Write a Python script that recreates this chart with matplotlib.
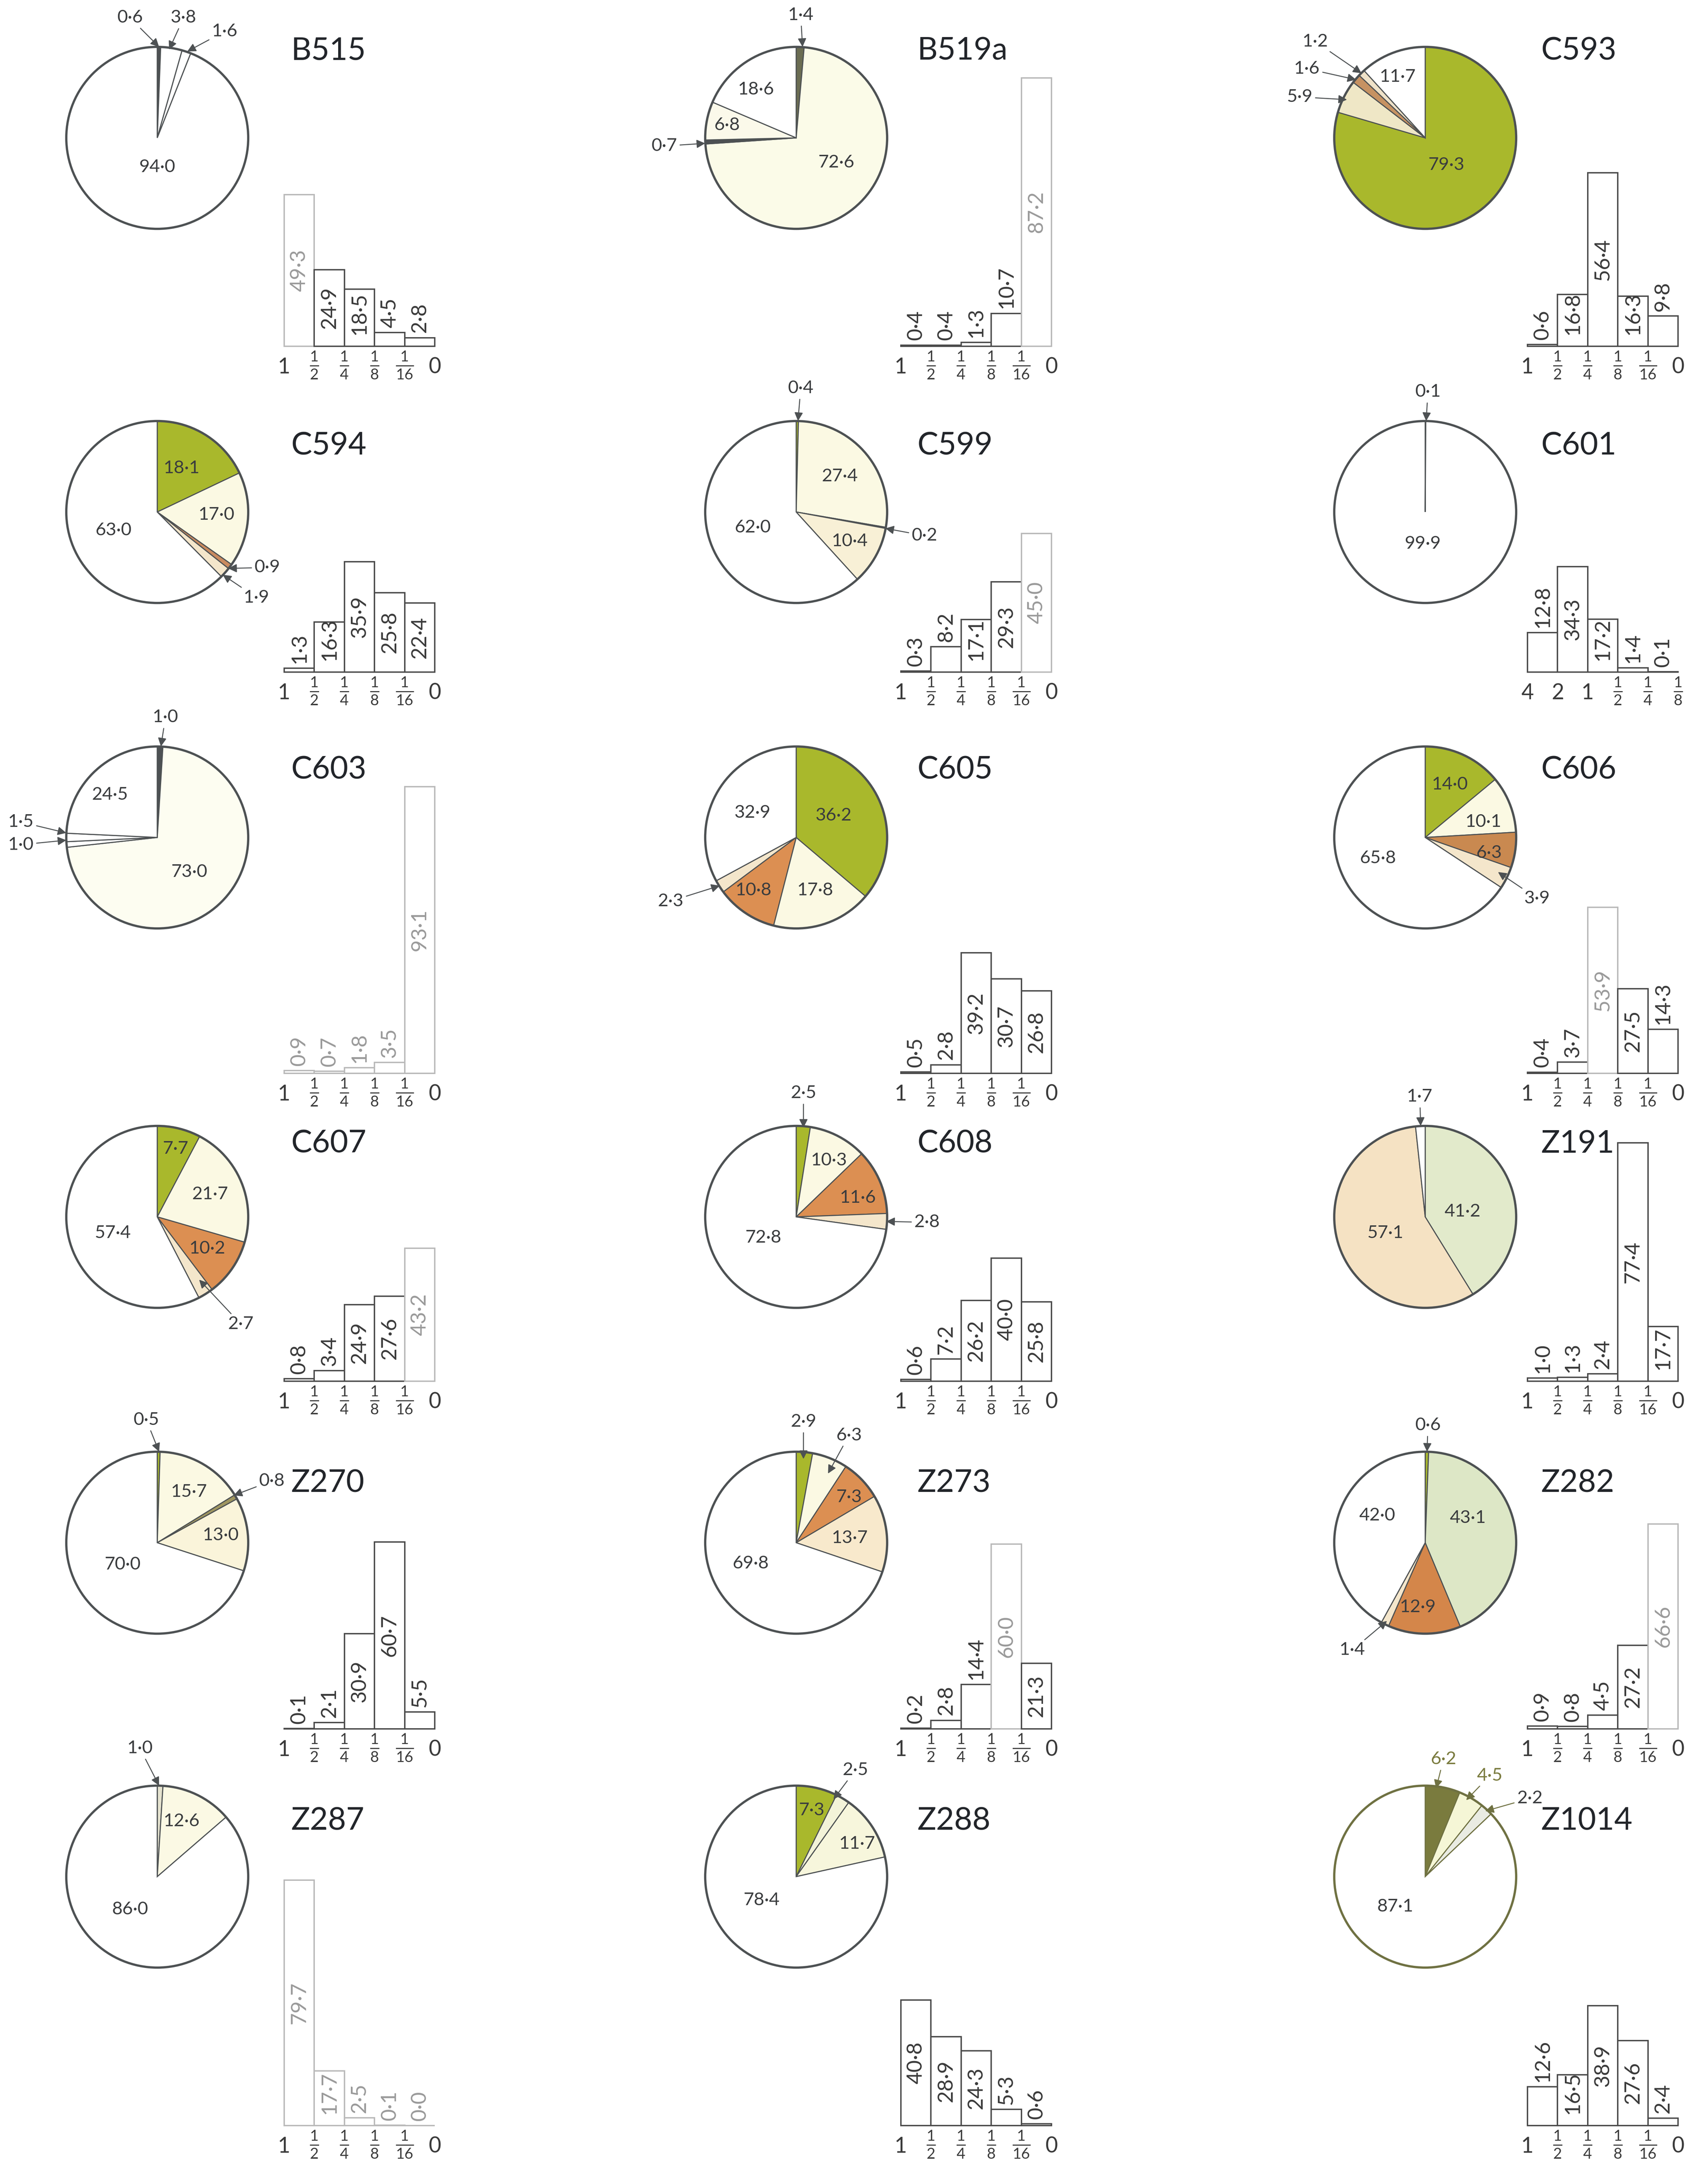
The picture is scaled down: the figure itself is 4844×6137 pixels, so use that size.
import matplotlib
matplotlib.use("Agg")
import matplotlib.pyplot as plt
from matplotlib.patches import Circle

plt.rcParams['font.family'] = ['Lato', 'DejaVu Sans']
plt.rcParams['mathtext.fontset'] = 'custom'
plt.rcParams['mathtext.rm'] = 'Lato'
plt.rcParams['mathtext.it'] = 'Lato'
plt.rcParams['mathtext.bf'] = 'Lato:bold'

W, H = 4844, 6137

# colours of the pie classes
G = '#a9b82c'
CR = '#fbf9e3'
OR = '#dc8f52'
LB = '#f4e6cb'
WH = 'white'
DK = '#4d5153'

names = ['B515', 'B519a', 'C593',
         'C594', 'C599', 'C601',
         'C603', 'C605', 'C606',
         'C607', 'C608', 'Z191',
         'Z270', 'Z273', 'Z282',
         'Z287', 'Z288', 'Z1014']

pie_vals = [
    [0.6, 3.8, 1.6, 94.0],
    [1.4, 72.6, 0.7, 6.8, 18.6],
    [79.3, 5.9, 1.6, 1.2, 11.7],
    [18.1, 17.0, 0.9, 1.9, 63.0],
    [0.4, 27.4, 0.2, 10.4, 62.0],
    [0.1, 99.9],
    [1.0, 73.0, 1.0, 1.5, 24.5],
    [36.2, 17.8, 10.8, 2.3, 32.9],
    [14.0, 10.1, 6.3, 3.9, 65.8],
    [7.7, 21.7, 10.2, 2.7, 57.4],
    [2.5, 10.3, 11.6, 2.8, 72.8],
    [41.2, 57.1, 1.7],
    [0.5, 15.7, 0.8, 13.0, 70.0],
    [2.9, 6.3, 7.3, 13.7, 69.8],
    [0.6, 43.1, 12.9, 1.4, 42.0],
    [1.0, 12.6, 86.0],
    [7.3, 2.5, 11.7, 78.4],
    [6.2, 4.5, 2.2, 87.1],
]

pie_cols = [
    [DK, WH, WH, WH],
    ['#6b6d52', '#fbfbe8', DK, '#fbf9ea', WH],
    [G, '#efe7c6', '#c69262', '#efe2c8', WH],
    [G, CR, '#c98a5f', LB, WH],
    [G, CR, DK, '#f8f0d6', WH],
    [DK, WH],
    [DK, '#fdfdf1', WH, WH, WH],
    [G, CR, OR, LB, WH],
    [G, CR, '#c98950', LB, WH],
    [G, CR, OR, LB, WH],
    [G, CR, OR, LB, WH],
    ['#e2eacb', '#f5e2c3', WH],
    [G, CR, '#9f9660', '#faf4da', WH],
    [G, CR, OR, '#f8e9cc', WH],
    [G, '#dde7c6', '#d4864a', LB, WH],
    ['#e5e3cf', '#fbf9e4', WH],
    [G, '#f3f3d8', '#f7f6dc', WH],
    ['#7a7b3e', '#f5f6d6', '#e9ebe2', WH],
]

hist_vals = [
    [49.3, 24.9, 18.5, 4.5, 2.8],
    [0.4, 0.4, 1.3, 10.7, 87.2],
    [0.6, 16.8, 56.4, 16.3, 9.8],
    [1.3, 16.3, 35.9, 25.8, 22.4],
    [0.3, 8.2, 17.1, 29.3, 45.0],
    [12.8, 34.3, 17.2, 1.4, 0.1],
    [0.9, 0.7, 1.8, 3.5, 93.1],
    [0.5, 2.8, 39.2, 30.7, 26.8],
    [0.4, 3.7, 53.9, 27.5, 14.3],
    [0.8, 3.4, 24.9, 27.6, 43.2],
    [0.6, 7.2, 26.2, 40.0, 25.8],
    [1.0, 1.3, 2.4, 77.4, 17.7],
    [0.1, 2.1, 30.9, 60.7, 5.5],
    [0.2, 2.8, 14.4, 60.0, 21.3],
    [0.9, 0.8, 4.5, 27.2, 66.6],
    [79.7, 17.7, 2.5, 0.1, 0.0],
    [40.8, 28.9, 24.3, 5.3, 0.6],
    [12.6, 16.5, 38.9, 27.6, 2.4],
]

sizes_std = ['1', '1/2', '1/4', '1/8', '1/16', '0']
sizes_c601 = ['4', '2', '1', '1/2', '1/4', '1/8']

# label placement, in pie radii from the centre: (x, y) inside, (x, y, tip_x, tip_y) with arrow
pie_labels = [
    [(-0.30, 1.32, 0.02, 1.0), (0.29, 1.32, 0.13, 0.97), (0.74, 1.17, 0.33, 0.95), (0, -0.32)],
    [(0.05, 1.35, 0.07, 1.0), (0.44, -0.27), (-1.45, -0.09, -1.0, -0.06), (-0.76, 0.14), (-0.44, 0.53)],
    [(0.23, -0.30), (-1.38, 0.45, -0.86, 0.42), (-1.30, 0.76, -0.76, 0.64), (-1.21, 1.06, -0.70, 0.71), (-0.30, 0.67)],
    [(0.27, 0.48), (0.65, -0.03), (1.21, -0.61, 0.78, -0.62), (1.09, -0.94, 0.72, -0.69), (-0.48, -0.20)],
    [(0.05, 1.36, 0.02, 1.0), (0.48, 0.39), (1.41, -0.26, 0.98, -0.18), (0.59, -0.32), (-0.48, -0.17)],
    [(0.03, 1.32, 0.01, 1.0), (-0.03, -0.35)],
    [(0.09, 1.32, 0.04, 1.0), (0.35, -0.38), (-1.5, -0.08, -1.0, -0.03), (-1.5, 0.17, -1.0, 0.05), (-0.52, 0.47)],
    [(0.41, 0.24), (0.21, -0.58), (-0.47, -0.58), (-1.38, -0.70, -0.84, -0.53), (-0.48, 0.27)],
    [(0.27, 0.58), (0.64, 0.17), (0.70, -0.17), (1.23, -0.67, 0.80, -0.38), (-0.52, -0.23)],
    [(0.20, 0.75), (0.58, 0.25), (0.55, -0.35), (0.92, -1.18, 0.46, -0.69), (-0.49, -0.18)],
    [(0.08, 1.36, 0.08, 0.98), (0.36, 0.62), (0.68, 0.21), (1.44, -0.06, 0.99, -0.05), (-0.36, -0.23)],
    [(0.41, 0.06), (-0.44, -0.18), (-0.06, 1.32, -0.05, 1.0)],
    [(-0.12, 1.35, 0.02, 1.0), (0.35, 0.56), (1.26, 0.68, 0.84, 0.52), (0.70, 0.08), (-0.38, -0.24)],
    [(0.08, 1.33, 0.08, 0.92), (0.58, 1.18, 0.35, 0.76), (0.58, 0.50), (0.59, 0.05), (-0.50, -0.23)],
    [(0.03, 1.29, 0.02, 1.0), (0.47, 0.27), (-0.08, -0.71), (-0.80, -1.18, -0.42, -0.86), (-0.53, 0.30)],
    [(-0.19, 1.41, 0.02, 1.0), (0.27, 0.61), (-0.30, -0.36)],
    [(0.17, 0.73), (0.65, 1.17, 0.41, 0.85), (0.67, 0.36), (-0.38, -0.26)],
    [(0.20, 1.29, 0.12, 0.97), (0.71, 1.11, 0.45, 0.84), (1.15, 0.86, 0.66, 0.72), (-0.33, -0.33)],
]

# bars whose print came out pale
faded = [{0}, {4}, set(), set(), {4}, set(), {0, 1, 2, 3, 4}, set(), {2},
         {4}, set(), set(), set(), {3}, {4}, {0, 1, 2, 3, 4}, set(), set()]

# grid of the 3 x 6 panels, in pixels
pie_cx = [446, 2258, 4042]
pie_cy = [391, 1452, 2375, 3451, 4375, 5322]
R = 258
title_x = [826, 2602, 4371]
title_y = [145, 1264, 2183, 3244, 4206, 5165]
hist_x = [806, 2555, 4332]
hist_base = [982, 1906, 3044, 3917, 4903, 6028]
hist_w = 427
PX_PER_PCT = 8.73

TXT = '#3a3c3e'
EDGE = '#4d5153'


def fmt(v):
    s = f"{v:.1f}"
    return s.replace('.', '\u00b7')


def rect(left, top, w, h):
    return [left / W, 1 - (top + h) / H, w / W, h / H]


def tick_text(t):
    if '/' in t:
        a, b = t.split('/')
        return r'$\frac{%s}{%s}$' % (a, b), 44
    return t, 44


fig = plt.figure(figsize=(W / 100, H / 100), dpi=100)
fig.patch.set_facecolor('white')

for k, name in enumerate(names):
    row, col = divmod(k, 3)
    cx, cy = pie_cx[col], pie_cy[row]
    edge = '#6f7142' if name == 'Z1014' else EDGE

    side = 2.5 * R
    ax = fig.add_axes(rect(cx - side / 2, cy - side / 2, side, side))
    ax.pie(pie_vals[k], colors=pie_cols[k], startangle=90, counterclock=False,
           radius=1, normalize=True,
           wedgeprops=dict(edgecolor=edge, linewidth=2.2))
    ax.add_patch(Circle((0, 0), 1, fill=False, edgecolor=edge, lw=4.6))
    ax.set_xlim(-1.25, 1.25)
    ax.set_ylim(-1.25, 1.25)
    ax.set_aspect('equal')
    ax.axis('off')

    for j, pos in enumerate(pie_labels[k]):
        col_t = TXT
        if name == 'Z1014' and j < 2:
            col_t = '#7a7b3e'
        if len(pos) == 2:
            ax.text(pos[0], pos[1], fmt(pie_vals[k][j]), ha='center', va='center',
                    fontsize=37, color=col_t)
        else:
            ax.annotate(fmt(pie_vals[k][j]), xy=(pos[2], pos[3]), xytext=(pos[0], pos[1]),
                        ha='center', va='center', fontsize=37, color=col_t,
                        annotation_clip=False,
                        arrowprops=dict(arrowstyle='-|>', color=edge, lw=2.0,
                                        mutation_scale=36, shrinkA=4, shrinkB=0))

    fig.text(title_x[col] / W, 1 - title_y[row] / H, name, fontsize=64,
             color='#22252a', ha='left', va='center')

    # size-class histogram
    hh = 100 * PX_PER_PCT
    hx = fig.add_axes(rect(hist_x[col], hist_base[row] - hh, hist_w, hh))
    vals = hist_vals[k]
    edges = ['#b9b9b9' if i in faded[k] else '#4a4a4a' for i in range(len(vals))]
    hx.bar(range(len(vals)), vals, width=1, align='edge', facecolor='white',
           edgecolor=edges, linewidth=2.8, clip_on=False)
    hx.set_xlim(0, len(vals))
    hx.set_ylim(0, 100)
    hx.axis('off')

    for i, v in enumerate(vals):
        if v >= 15:
            y, va = max(0.5 * v, 10.5), 'center'
        else:
            y, va = v + 1.5, 'bottom'
        c = '#9a9a9a' if i in faded[k] else '#3a3a3a'
        hx.text(i + 0.5, y, fmt(v), rotation=90, ha='center', va=va,
                fontsize=43, color=c)

    ticks = sizes_c601 if name == 'C601' else sizes_std
    for i, t in enumerate(ticks):
        s, fs = tick_text(t)
        if '/' in t:
            hx.text(i, -1.2, s, ha='center', va='top', fontsize=fs, color='#3a3a3a')
        else:
            hx.text(i, -6.8, s, ha='center', va='center', fontsize=fs, color='#3a3a3a')

fig.savefig('out.png', dpi=100, facecolor='white')
